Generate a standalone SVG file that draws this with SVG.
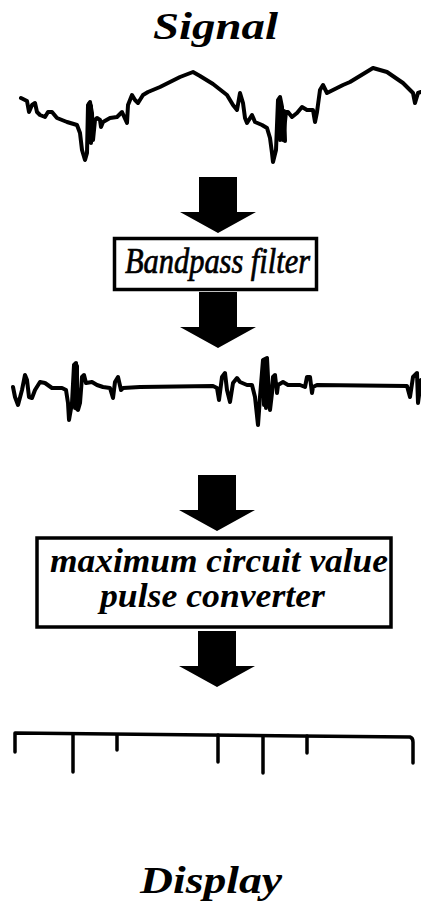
<svg xmlns="http://www.w3.org/2000/svg" width="421" height="909" viewBox="0 0 421 909">
<style>
.bg{fill:#ffffff}
.title{font-family:"Liberation Serif",serif;font-weight:bold;font-style:italic;font-size:38px;fill:#000}
.lbl{font-family:"Liberation Serif",serif;font-style:italic;fill:#000}
.box{fill:#fff;stroke:#000;stroke-width:3.5}
.wave{fill:none;stroke:#000;stroke-width:4;stroke-linejoin:round;stroke-linecap:round}
.tick{fill:none;stroke:#000;stroke-width:3.5;stroke-linejoin:round;stroke-linecap:round}
.arrow{fill:#000;stroke:none}
</style>
<defs>
<path id="arr" d="M-19,0 H19 V35 H38 L0,56 L-38,35 H-19 Z"/>
</defs>
<rect class="bg" x="0" y="0" width="421" height="909"/>

<g id="signal-title">
<text class="title" x="153" y="39" textLength="125" lengthAdjust="spacingAndGlyphs">Signal</text>
</g>

<g id="signal-wave">
<path class="wave" d="M21,98 L27,101 L29,112 L32,105 L35,103 L37,112 L40,115 L45,117 L48,112 L52,112 L57,118 L67,122 L77,125 L80,133 L82,150 L85,160 L87,153 L88,105 L90,102 L92,113 L93,140 L95,120 L97,118 L100,120 L101,127 L103,122 L110,118 L117,117 L122,112 L127,123 L128,105 L132,95 L135,100 L138,103 L143,95 L148,92 L160,87 L180,77 L193,72 L200,76 L213,84 L227,95 L233,105 L237,110 L240,93 L243,103 L245,118 L247,123 L252,115 L255,122 L262,125 L267,128 L270,138 L272,153 L273,162 L276,150 L278,100 L280,97 L282,107 L283,140 L286,112 L288,112 L292,117 L297,113 L302,107 L307,110 L313,110 L315,122 L317,112 L320,90 L323,85 L327,93 L333,90 L343,85 L350,82 L373,68 L387,72 L403,83 L413,93 L415,103 L418,93 L421,92"/>
<path class="wave" d="M89,104 L89,142 M91,106 L91,143"/>
<path class="wave" d="M279,101 L280,140 M284,111 L285,141"/>
</g>

<g id="filtered-wave">
<path class="wave" d="M13,387 L15,397 L18,405 L22,390 L25,375 L27,380 L29,397 L32,398 L35,390 L40,382 L45,383 L52,388 L62,388 L66,390 L68,403 L69,420 L72,403 L74,365 L76,363 L78,410 L80,403 L82,377 L84,375 L86,383 L92,382 L97,385 L103,387 L110,388 L113,398 L115,382 L118,377 L121,390 L123,388 L140,387 L213,386 L217,388 L219,400 L222,377 L225,373 L227,390 L230,402 L233,383 L237,378 L240,382 L247,385 L252,385 L255,397 L258,425 L260,397 L263,360 L267,358 L268,377 L270,410 L272,393 L273,377 L275,375 L277,393 L278,385 L283,382 L288,385 L293,385 L300,385 L305,387 L307,377 L310,377 L312,393 L313,387 L317,385 L407,386 L410,397 L413,377 L417,373 L418,403 L421,380"/>
<path class="wave" d="M75,366 L75,408 M77,366 L77,409"/>
<path class="wave" d="M264,362 L264,405 M266,360 L266,408"/>
</g>

<g id="bandpass-filter">
<rect class="box" x="114.5" y="238.5" width="202" height="51"/>
<text class="lbl" x="125" y="273" font-size="35" stroke="#000" stroke-width="0.7" textLength="185" lengthAdjust="spacingAndGlyphs">Bandpass filter</text>
</g>

<g id="pulse-converter">
<rect class="box" x="37" y="538" width="354" height="89"/>
<text class="lbl" x="50" y="572" font-size="33" font-weight="bold" textLength="338" lengthAdjust="spacingAndGlyphs">maximum circuit value</text>
<text class="lbl" x="100" y="607" font-size="33" font-weight="bold" textLength="225" lengthAdjust="spacingAndGlyphs">pulse converter</text>
</g>

<g id="display-ticks">
<path class="tick" d="M15,752 L15,733 L300,736 L410,737 Q413,738 413,742 L413,763"/>
<path class="tick" d="M73,734 V772 M117,735 V750 M218,735 V762 M263,736 V773 M307,736 V753"/>
</g>

<g id="display-title">
<text class="title" x="140" y="893" textLength="142" lengthAdjust="spacingAndGlyphs">Display</text>
</g>

<g id="connectors">
<use href="#arr" class="arrow" transform="translate(218,177)"/>
<use href="#arr" class="arrow" transform="translate(218,292)"/>
<use href="#arr" class="arrow" transform="translate(217,475)"/>
<use href="#arr" class="arrow" transform="translate(217,631)"/>
</g>
</svg>
